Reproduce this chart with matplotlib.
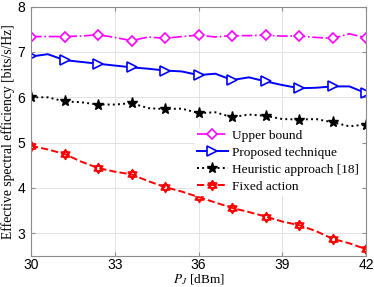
import numpy as np
import matplotlib
matplotlib.use("Agg")
import matplotlib.pyplot as plt
from matplotlib.path import Path

# transmit power P_J [dBm], 21 samples, markers on every other one
pj = [30.0, 30.6, 31.2, 31.8, 32.4, 33.0, 33.6, 34.2, 34.8, 35.4, 36.0,
      36.6, 37.2, 37.8, 38.4, 39.0, 39.6, 40.2, 40.8, 41.4, 42.0]

upper_bound = [7.34, 7.34, 7.34, 7.35, 7.38, 7.32, 7.25, 7.33, 7.30, 7.34, 7.37,
               7.33, 7.36, 7.36, 7.37, 7.35, 7.35, 7.32, 7.30, 7.40, 7.31]
proposed = [6.90, 6.95, 6.82, 6.78, 6.74, 6.70, 6.66, 6.63, 6.59, 6.57, 6.49,
            6.52, 6.38, 6.44, 6.35, 6.27, 6.20, 6.21, 6.24, 6.24, 6.09]
heuristic = [6.00, 6.00, 5.91, 5.89, 5.84, 5.84, 5.87, 5.76, 5.74, 5.75, 5.65,
             5.67, 5.56, 5.62, 5.59, 5.52, 5.51, 5.52, 5.45, 5.36, 5.40]
fixed = [4.93, 4.85, 4.75, 4.58, 4.44, 4.36, 4.30, 4.15, 4.02, 3.92, 3.80,
         3.68, 3.56, 3.47, 3.37, 3.26, 3.18, 3.05, 2.88, 2.78, 2.65]

labels = ["Upper bound", "Proposed technique", "Heuristic approach [18]", "Fixed action"]

# hexagram marker (two overlapping triangles)
ang = np.deg2rad([90, 210, 330, 90])
tri_up = np.column_stack([np.cos(ang), np.sin(ang)])
tri_dn = -tri_up
verts = np.vstack([tri_up, tri_dn])
codes = [Path.MOVETO, Path.LINETO, Path.LINETO, Path.CLOSEPOLY] * 2
hexagram = Path(verts, codes)

plt.rcParams['mathtext.fontset'] = 'stix'

fig = plt.figure(figsize=(3.74, 2.87), dpi=100)
ax = fig.add_axes([0.083, 0.108, 0.896, 0.869])

ax.plot(pj, upper_bound, color='#ff00ff', ls='-.', lw=1.2, marker='D', ms=5.5,
        mfc='white', mec='#ff00ff', mew=1.2, markevery=2, label=labels[0])
ax.plot(pj, proposed, color='#0000ff', ls='-', lw=1.4, marker='>', ms=7,
        mfc='white', mec='#0000ff', mew=1.2, markevery=2, label=labels[1])
ax.plot(pj, heuristic, color='black', ls=':', lw=1.4, marker='*', ms=8,
        mfc='black', mec='black', markevery=2, label=labels[2])
ax.plot(pj, fixed, color='#ff0000', ls='--', lw=1.4, marker=hexagram, ms=7,
        mfc='none', mec='#ff0000', mew=1.2, markevery=2, label=labels[3])

ax.set_xlim(30, 42)
ax.set_ylim(2.5, 8)
ax.set_xticks([30, 33, 36, 39, 42])
ax.set_yticks([3, 4, 5, 6, 7, 8])
ax.grid(True, color='#e3e3e3', lw=0.7)
ax.set_axisbelow(True)
for s in ax.spines.values():
    s.set_color('#8c8c8c')
    s.set_linewidth(0.8)
ax.tick_params(direction='in', length=3, color='#8c8c8c', top=True, right=True,
               labelsize=10)
ax.tick_params(axis='x', pad=1.5)
ax.tick_params(axis='y', pad=4)
for t in ax.get_xticklabels() + ax.get_yticklabels():
    t.set_family('Liberation Sans')

ax.set_ylabel('Effective spectral efficiency [bits/s/Hz]', family='Liberation Serif',
              fontsize=9.8, labelpad=2)
ax.set_xlabel('$P_J$ [dBm]', family='Liberation Serif', fontsize=9.5, labelpad=0)

leg = ax.legend(loc='lower right', bbox_to_anchor=(0.985, 0.245),
                prop={'family': 'Liberation Serif', 'size': 9.6},
                frameon=True, fancybox=False, edgecolor='white', framealpha=1,
                handlelength=2.3, handletextpad=0.35, labelspacing=0.35,
                borderpad=0.15, borderaxespad=0)

fig.savefig('out.png', dpi=100)
